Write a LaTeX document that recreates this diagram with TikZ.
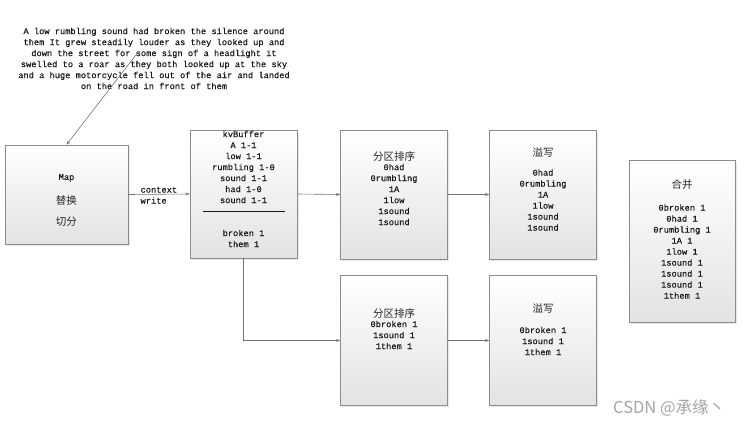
\documentclass[tikz,border=0pt]{standalone}
\usepackage{fontspec}
\setmonofont{Liberation Mono}
\newfontfamily\monob[FakeBold=0.35]{Liberation Mono}
\newfontfamily\cjk{Noto Sans CJK SC}
\usetikzlibrary{arrows.meta,shadows}
\tikzset{
  box/.style={rectangle, draw=black!45, line width=0.6pt, top color=white, bottom color=black!11,
    drop shadow={opacity=0.18, shadow xshift=1.5pt, shadow yshift=-1.5pt}, inner sep=0pt},
  txt/.style={font=\monob\fontsize{8.7}{11}\selectfont, align=center, inner sep=0pt, text=black!90},
  ttl/.style={font=\cjk\fontsize{10.5}{12}\selectfont, inner sep=0pt, text=black!85},
  arr/.style={draw=black!55, line width=0.6pt, -{Stealth[length=4pt,width=3pt]}},
}
\begin{document}
\begin{tikzpicture}[x=1pt,y=-1pt]
\useasboundingbox[fill=white] (0,0) rectangle (753,426);

% paragraph
\node[txt] (para) at (154,58.5) {A low rumbling sound had broken the silence around\\
them It grew steadily louder as they looked up and\\
down the street for some sign of a headlight it\\
swelled to a roar as they both looked up at the sky\\
and a huge motorcycle fell out of the air and landed\\
on the road in front of them};
\coordinate (pstart) at (139,51);

% boxes
\node[box, minimum width=123pt, minimum height=99pt] (mapbox) at (66.5,194.5) {};
\node[box, minimum width=107pt, minimum height=128pt] (kv) at (243.5,194) {};
\node[box, minimum width=107pt, minimum height=129pt] (p1) at (394,194.5) {};
\node[box, minimum width=107pt, minimum height=129pt] (s1) at (543,194.5) {};
\node[box, minimum width=107pt, minimum height=130pt] (p2) at (394,340.5) {};
\node[box, minimum width=107pt, minimum height=130pt] (s2) at (543,340.5) {};
\node[box, minimum width=106pt, minimum height=162pt] (merge) at (682,241) {};

% map text
\node[txt] (maplbl) at (66.5,178) {Map};
\node[ttl] (maprep) at (66.5,201) {替换};
\node[ttl] (mapcut) at (66.5,222) {切分};

% kvBuffer text
\node[txt] (kvtxt) at (243.5,189) {kvBuffer\\ A 1-1\\ low 1-1\\ rumbling 1-0\\ sound 1-1\\ had 1-0\\ sound 1-1\\
\rule[2pt]{82pt}{0.9pt}\\ \\ broken 1\\ them 1};

% partition sort top
\node[ttl] (p1t) at (394,156) {分区排序};
\node[txt] (p1txt) at (394,194.5) {0had\\ 0rumbling\\ 1A\\ 1low\\ 1sound\\ 1sound};

% spill top
\node[ttl] (s1t) at (543,152) {溢写};
\node[txt] (s1txt) at (543,200) {0had\\ 0rumbling\\ 1A\\ 1low\\ 1sound\\ 1sound};

% partition sort bottom
\node[ttl] (p2t) at (394,313) {分区排序};
\node[txt] (p2txt) at (394,335) {0broken 1\\ 1sound 1\\ 1them 1};

% spill bottom
\node[ttl] (s2t) at (543,308) {溢写};
\node[txt] (s2txt) at (543,341) {0broken 1\\ 1sound 1\\ 1them 1};

% merge
\node[ttl] (mt) at (682,185) {合并};
\node[txt] (mtxt) at (682,251.5) {0broken 1\\ 0had 1\\ 0rumbling 1\\ 1A 1\\ 1low 1\\ 1sound 1\\ 1sound 1\\ 1sound 1\\ 1them 1};

% connectors
\draw[arr] (pstart) -- (mapbox.north);
\draw[arr] (mapbox.east) -- node[pos=0, txt, anchor=south west, xshift=12pt, yshift=1.5pt] (ctx) {context} node[pos=0, txt, anchor=north west, xshift=12pt, yshift=-2.5pt] (wr) {write} (kv.west);
\draw[arr] (kv.east) -- (p1.west);
\draw[arr] (p1.east) -- (s1.west);
\draw[arr] (kv.south) |- (p2.west);
\draw[arr] (p2.east) -- (s2.west);

% watermark
\node[font=\cjk\fontsize{16.5}{18}\selectfont, text=black!35, anchor=west, inner sep=0pt] (wm) at (613,408) {CSDN @承缘丶};
\end{tikzpicture}
\end{document}
